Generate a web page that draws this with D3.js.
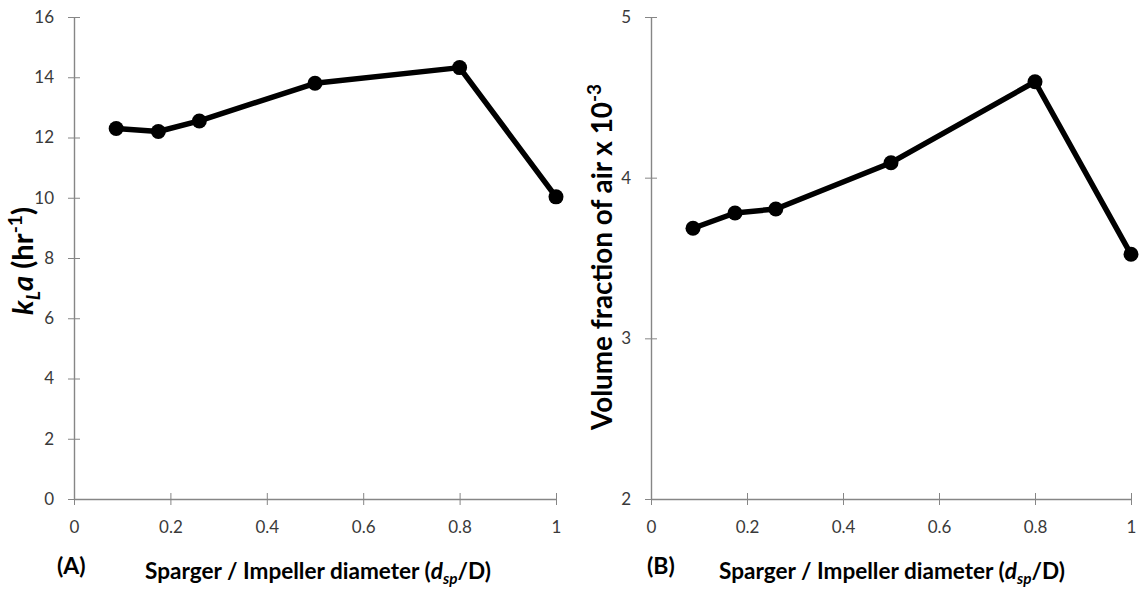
<!DOCTYPE html>
<html>
<head>
<meta charset="utf-8">
<script src="https://cdn.jsdelivr.net/npm/d3@7"></script>
<style>
  html, body { margin: 0; padding: 0; background: #fff; }
  svg { display: block; font-family: Lato, "Open Sans", sans-serif; }
</style>
</head>
<body>
<svg id="chart" width="1144" height="590"></svg>
<script>
// Sparger-to-impeller diameter ratios
const ratio = [0.0875, 0.175, 0.26, 0.5, 0.8, 1.0];
// Panel A: volumetric mass transfer coefficient kLa (1/hr)
const kla = [12.3, 12.2, 12.55, 13.8, 14.32, 10.03];
// Panel B: volume fraction of air (x 10^-3)
const airFraction = [3.685, 3.78, 3.805, 4.093, 4.597, 3.523];

const xTicksA = [0, 0.2, 0.4, 0.6, 0.8, 1];
const yTicksA = [0, 2, 4, 6, 8, 10, 12, 14, 16];
const xTicksB = [0, 0.2, 0.4, 0.6, 0.8, 1];
const yTicksB = [2, 3, 4, 5];

const svg = d3.select("#chart");
const axisColor = "#868686";
const labelColor = "#3a3a3a";

// Scale a text element's font size so its run length equals `width`
function fitWidth(sel, width) {
  const base = parseFloat(sel.attr("font-size"));
  const w = sel.node().getBBox().width;
  const k = width / w;
  sel.attr("font-size", base * k);
  sel.selectAll("tspan").each(function () {
    const t = d3.select(this);
    const fs = t.attr("font-size");
    if (fs) t.attr("font-size", parseFloat(fs) * k);
    const dy = t.attr("dy");
    if (dy) t.attr("dy", parseFloat(dy) * k);
  });
}

function panel(opts) {
  const x = d3.scaleLinear().domain([0, 1]).range([opts.left, opts.right]);
  const y = d3.scaleLinear().domain(opts.yDomain).range([opts.bottom, opts.top]);
  const g = svg.append("g");

  // y axis with cross-style ticks
  const ya = g.append("g").attr("transform", `translate(${opts.left},0)`)
    .call(d3.axisLeft(y).tickValues(opts.yTicks).tickSizeInner(6).tickSizeOuter(0).tickPadding(14)
      .tickFormat(d3.format("")));
  ya.select(".domain").attr("stroke", axisColor).attr("stroke-width", 1.4);
  ya.selectAll(".tick line").attr("stroke", axisColor).attr("x1", 6).attr("x2", -6);
  ya.selectAll(".tick text").attr("fill", labelColor).attr("font-size", 17).attr("font-family", "Lato, sans-serif");

  // x axis with cross-style ticks
  const xa = g.append("g").attr("transform", `translate(0,${opts.bottom})`)
    .call(d3.axisBottom(x).tickValues(opts.xTicks).tickSizeInner(6).tickSizeOuter(0).tickPadding(16)
      .tickFormat(d3.format("")));
  xa.select(".domain").attr("stroke", axisColor).attr("stroke-width", 1.4);
  xa.selectAll(".tick line").attr("stroke", axisColor).attr("y1", -6).attr("y2", 6);
  xa.selectAll(".tick text").attr("fill", labelColor).attr("font-size", 17).attr("font-family", "Lato, sans-serif");

  const pts = ratio.map((r, i) => [r, opts.values[i]]);
  g.append("path")
    .datum(pts)
    .attr("fill", "none")
    .attr("stroke", "#000")
    .attr("stroke-width", 5.5)
    .attr("stroke-linejoin", "round")
    .attr("d", d3.line().x(d => x(d[0])).y(d => y(d[1])));
  g.selectAll("circle.pt").data(pts).join("circle")
    .attr("class", "pt")
    .attr("cx", d => x(d[0]))
    .attr("cy", d => y(d[1]))
    .attr("r", 7.5)
    .attr("fill", "#000");

  // panel letter
  g.append("text")
    .attr("x", opts.letterX).attr("y", 574)
    .attr("font-size", 23).attr("font-weight", "bold").attr("fill", "#000")
    .text(opts.letter);

  // x-axis title
  const xt = g.append("text")
    .attr("x", opts.xTitleX).attr("y", 579)
    .attr("text-anchor", "middle")
    .attr("font-size", 22).attr("font-weight", "bold").attr("fill", "#000");
  xt.append("tspan").text("Sparger / Impeller diameter (");
  xt.append("tspan").attr("font-style", "italic").text("d");
  xt.append("tspan").attr("font-style", "italic").attr("font-size", 15).attr("dy", 5).text("sp");
  xt.append("tspan").attr("dy", -5).text("/D)");
  fitWidth(xt, 346);

  return { x, y, g };
}

const A = panel({
  left: 74, right: 556, top: 17, bottom: 499,
  yDomain: [0, 16], yTicks: yTicksA, xTicks: xTicksA,
  values: kla, letter: "(A)", letterX: 57, xTitleX: 318
});

const B = panel({
  left: 651, right: 1131, top: 17, bottom: 499,
  yDomain: [2, 5], yTicks: yTicksB, xTicks: xTicksB,
  values: airFraction, letter: "(B)", letterX: 647, xTitleX: 892
});

// y-axis title, panel A: kLa (hr^-1)
const ytA = svg.append("text")
  .attr("transform", "translate(33,261) rotate(-90)")
  .attr("text-anchor", "middle")
  .attr("font-size", 26).attr("font-weight", "bold").attr("fill", "#000");
ytA.append("tspan").attr("font-style", "italic").text("k");
ytA.append("tspan").attr("font-style", "italic").attr("font-size", 17).attr("dy", 6).text("L");
ytA.append("tspan").attr("font-style", "italic").attr("dy", -6).text("a");
ytA.append("tspan").text(" (hr");
ytA.append("tspan").attr("font-size", 17).attr("dy", -10).text("-1");
ytA.append("tspan").attr("dy", 10).text(")");
fitWidth(ytA, 108);

// y-axis title, panel B
const ytB = svg.append("text")
  .attr("transform", "translate(612,257) rotate(-90)")
  .attr("text-anchor", "middle")
  .attr("font-size", 28).attr("font-weight", "bold").attr("fill", "#000");
ytB.append("tspan").text("Volume fraction of air x 10");
ytB.append("tspan").attr("font-size", 19).attr("dy", -11).text("-3");
fitWidth(ytB, 347);
</script>
</body>
</html>
